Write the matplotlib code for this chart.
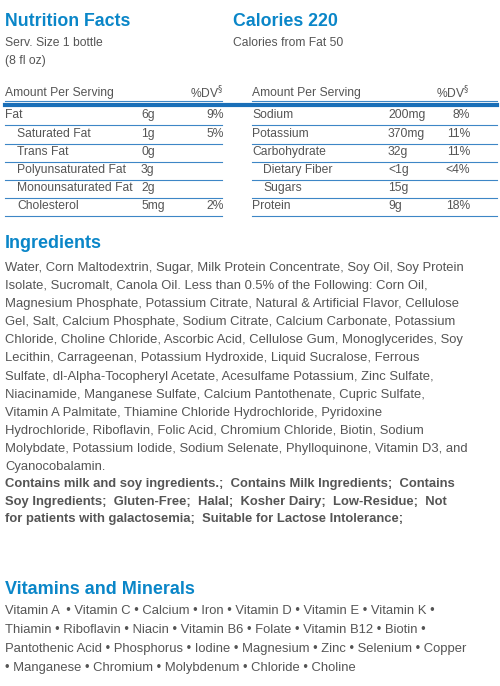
import matplotlib.pyplot as plt

W, H = 500, 686
BLUE = "#0a86c8"
LINE = "#3d86c6"
GRAY = "#555555"

left_names = ["Fat", "Saturated Fat", "Trans Fat", "Polyunsaturated Fat", "Monounsaturated Fat", "Cholesterol"]
left_indent = [False, True, True, True, True, True]
left_amounts = ["6g", "1g", "0g", "3g", "2g", "5mg"]
left_dv = ["9%", "5%", "", "", "", "2%"]
right_names = ["Sodium", "Potassium", "Carbohydrate", "Dietary Fiber", "Sugars", "Protein"]
right_indent = [False, False, False, True, True, False]
right_amounts = ["200mg", "370mg", "32g", "<1g", "15g", "9g"]
right_dv = ["8%", "11%", "11%", "<4%", "", "18%"]

ingredient_lines = [
    "Water, Corn Maltodextrin, Sugar, Milk Protein Concentrate, Soy Oil, Soy Protein",
    "Isolate, Sucromalt, Canola Oil. Less than 0.5% of the Following: Corn Oil,",
    "Magnesium Phosphate, Potassium Citrate, Natural & Artificial Flavor, Cellulose",
    "Gel, Salt, Calcium Phosphate, Sodium Citrate, Calcium Carbonate, Potassium",
    "Chloride, Choline Chloride, Ascorbic Acid, Cellulose Gum, Monoglycerides, Soy",
    "Lecithin, Carrageenan, Potassium Hydroxide, Liquid Sucralose, Ferrous",
    "Sulfate, dl-Alpha-Tocopheryl Acetate, Acesulfame Potassium, Zinc Sulfate,",
    "Niacinamide, Manganese Sulfate, Calcium Pantothenate, Cupric Sulfate,",
    "Vitamin A Palmitate, Thiamine Chloride Hydrochloride, Pyridoxine",
    "Hydrochloride, Riboflavin, Folic Acid, Chromium Chloride, Biotin, Sodium",
    "Molybdate, Potassium Iodide, Sodium Selenate, Phylloquinone, Vitamin D3, and",
    "Cyanocobalamin.",
]
bold_lines = [
    "Contains milk and soy ingredients.;  Contains Milk Ingredients;  Contains",
    "Soy Ingredients;  Gluten-Free;  Halal;  Kosher Dairy;  Low-Residue;  Not",
    "for patients with galactosemia;  Suitable for Lactose Intolerance;",
]
vitamin_lines = [
    "Vitamin A  \u2022 Vitamin C \u2022 Calcium \u2022 Iron \u2022 Vitamin D \u2022 Vitamin E \u2022 Vitamin K \u2022",
    "Thiamin \u2022 Riboflavin \u2022 Niacin \u2022 Vitamin B6 \u2022 Folate \u2022 Vitamin B12 \u2022 Biotin \u2022",
    "Pantothenic Acid \u2022 Phosphorus \u2022 Iodine \u2022 Magnesium \u2022 Zinc \u2022 Selenium \u2022 Copper",
    "\u2022 Manganese \u2022 Chromium \u2022 Molybdenum \u2022 Chloride \u2022 Choline",
]

plt.rcParams['font.family'] = ['Liberation Sans', 'DejaVu Sans']
fig = plt.figure(figsize=(W / 100, H / 100), dpi=100)
ax = fig.add_axes([0, 0, 1, 1])
ax.set_xlim(0, W)
ax.set_ylim(H, 0)
ax.axis("off")


def txt(x, y, s, size=8.7, color=GRAY, weight="normal", ha="left"):
    ax.text(x, y, s, fontsize=size, color=color, fontweight=weight, ha=ha, va="center")


# header
txt(5, 22, "Nutrition Facts", 12.8, BLUE, "bold")
txt(233, 22, "Calories 220", 12.8, BLUE, "bold")
txt(5, 43, "Serv. Size 1 bottle")
txt(5, 61, "(8 fl oz)")
txt(233, 43, "Calories from Fat 50")

# table
txt(5, 93, "Amount Per Serving")
txt(224, 93, "%DV$^{\\S}$", ha="right")
txt(252, 93, "Amount Per Serving")
txt(470, 93, "%DV$^{\\S}$", ha="right")
ax.plot([5, 222], [101, 101], color=LINE, lw=0.8)
ax.plot([252, 497], [101, 101], color=LINE, lw=0.8)
ax.plot([5, 497], [104.5, 104.5], color="#1a6fb8", lw=3)

row_y = [115, 134, 152, 170, 188, 206]
for i, y in enumerate(row_y):
    txt(17 if left_indent[i] else 5, y, left_names[i])
    txt(141, y, left_amounts[i])
    txt(224, y, left_dv[i], ha="right")
    txt(263 if right_indent[i] else 252, y, right_names[i])
    txt(388, y, right_amounts[i])
    txt(470, y, right_dv[i], ha="right")
    ax.plot([5, 222], [y + 9.5, y + 9.5], color=LINE, lw=0.8)
    ax.plot([252, 497], [y + 9.5, y + 9.5], color=LINE, lw=0.8)

# ingredients
txt(5, 244, "Ingredients", 13, BLUE, "bold")
for i, s in enumerate(ingredient_lines):
    txt(5, 268 + i * 18.1, s, 9.4)
for i, s in enumerate(bold_lines):
    txt(5, 484 + i * 17.5, s, 9.4, weight="bold")

# vitamins
txt(5, 590, "Vitamins and Minerals", 13, BLUE, "bold")
for i, s in enumerate(vitamin_lines):
    txt(5, 611 + i * 19, s, 9.4)

fig.savefig("out.png", dpi=100)
